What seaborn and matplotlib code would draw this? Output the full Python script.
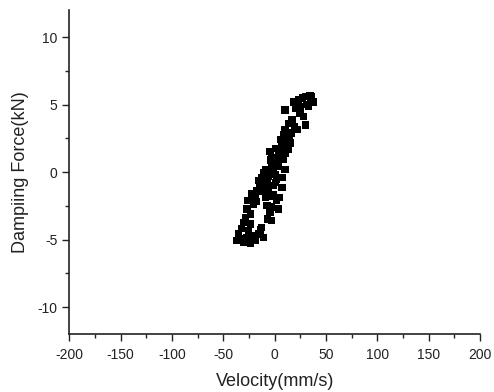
import seaborn as sns
import matplotlib.pyplot as plt
import pandas as pd
from matplotlib.ticker import MultipleLocator

# values (velocity in mm/s, force in kN)
velocity = [23, 29.7, 36, 37.8, 24.8, 31, 34.5, 32.9, 18.3, 27, 35.5,
            10.2, 24.8, 28, 29.7, 21.6, 13.4, 10.2, 8.6, 5.4, 15,
            13.4, 7, -4.4, 5.4, 10.2, 2.1, 8.6, -9.2, -2.7, 3.7, 10.2,
            -12.5, -6, 0.5, 7, -14, -7.6, 0.5, 7, -17.3, -10.9, -6,
            -1.2, -19, -9.2, 2.1, -20.6, -7.6, 3.7, -27, -23.8, -4.5,
            -6.8, -30.4, -23.8, -12.5, -32, -25.5, -15.8, -35.2, -36.8,
            -30.4, -23.8, -19, -10.9, -27, -2.7, -1.2, 3.7, 11.9, 10.2,
            -4, -1, 1.5, -5.5, -3, 4.5, -28.5, -21.5, -33.5, -14,
            17, 20, 16.5, 12, 6, 1, -3.5, -8, -10.5, -15.5, -18, -22,
            -26, -1.5, 0, -11, -15, 14.5, 19.5, 9, 4, -7, -3]
force = [5.35, 5.6, 5.6, 5.2, 4.85, 5.0, 5.7, 4.85, 5.2, 5.5, 5.45,
         4.6, 4.36, 4.1, 3.5, 3.14, 3.6, 3.14, 2.77, 2.4, 2.15,
         1.67, 1.9, 1.54, 1.42, 1.42, 0.93, 0.93, 0.2, 0.57, 0.44, 0.2,
         -0.42, -0.3, -0.17, -0.42, -0.9, -0.79, -0.79, -1.15, -1.4, -1.4, -1.15,
         -1.64, -1.89, -1.89, -2.13, -2.38, -2.5, -2.74, -2.74, -3.1, -3.0,
         -3.48, -3.73, -3.85, -4.1, -4.2, -4.34, -4.58, -4.58, -5.07,
         -5.2, -5.3, -5.07, -4.83, -4.83, 1.05, 0.07, 1.18, 2.4, 2.04,
         -0.1, 0.6, -0.5, -1.8, -2.6, -1.9, -3.4, -4.7, -4.9, -4.3,
         3.9, 4.7, 2.9, 1.8, 1.15, 1.75, 0.9, 0.1, -0.9, -0.6, -2.2, -1.6,
         -2.1, -1.0, 0.4, -0.05, -1.1, 2.75, 3.35, 2.55, 0.6, -1.5, -3.6]

df = pd.DataFrame({"v": velocity, "f": force})

sns.set_style("ticks")
plt.rcParams["font.family"] = ["Liberation Sans", "DejaVu Sans"]
plt.rcParams["axes.unicode_minus"] = False

fig = plt.figure(figsize=(4.94, 3.92), dpi=100)
ax = fig.add_axes([0.14, 0.148, 0.832, 0.826])
sns.scatterplot(df, x="v", y="f", marker="s", color="black",
                edgecolor="none", s=28, ax=ax)

ax.set_xlim(-200, 200)
ax.set_ylim(-12, 12)
ax.xaxis.set_major_locator(MultipleLocator(50))
ax.xaxis.set_minor_locator(MultipleLocator(25))
ax.yaxis.set_major_locator(MultipleLocator(5))
ax.yaxis.set_minor_locator(MultipleLocator(2.5))
ax.tick_params(which="major", length=5, width=1, labelsize=10, colors="#222222")
ax.tick_params(which="minor", length=3, width=1, colors="#222222")
ax.tick_params(axis="x", pad=5)
for s in ["top", "right"]:
    ax.spines[s].set_visible(False)
for s in ["left", "bottom"]:
    ax.spines[s].set_linewidth(1.2)
    ax.spines[s].set_color("#222222")
ax.set_xlabel("Velocity(mm/s)", fontsize=13, color="#222222", labelpad=8)
ax.set_ylabel("Dampiing Force(kN)", fontsize=13, color="#222222", labelpad=6)

plt.savefig("out.png", dpi=100)
